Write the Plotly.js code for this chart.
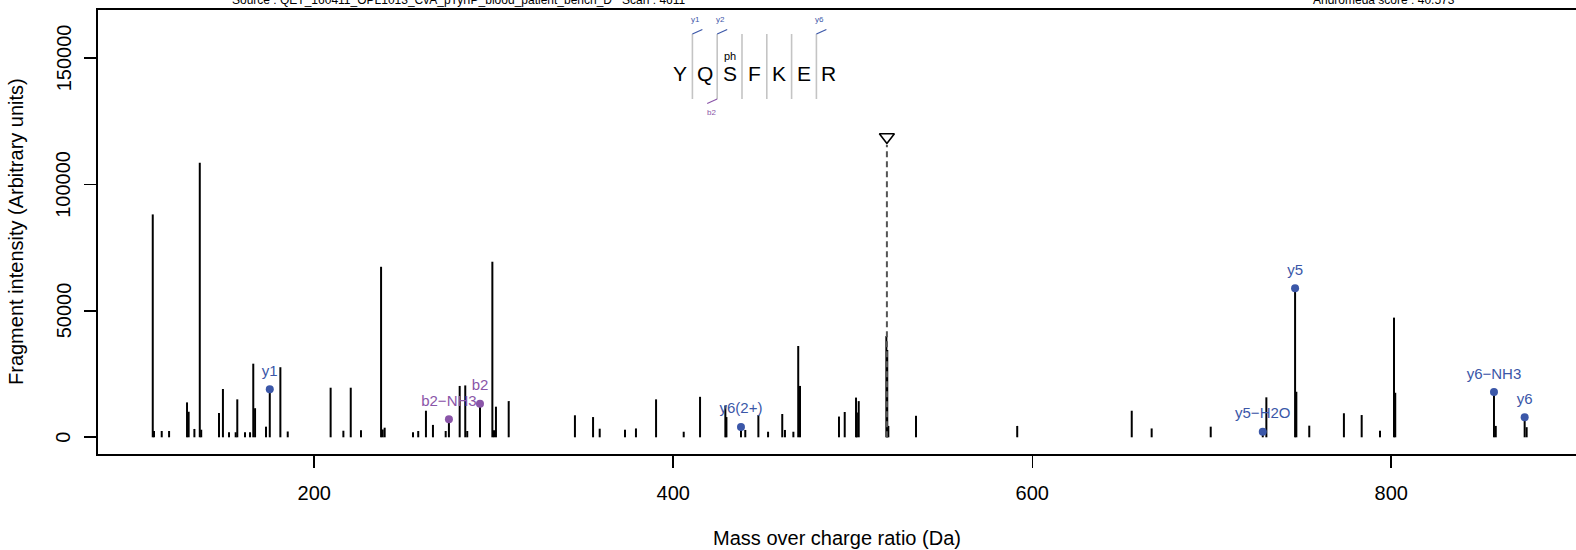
<!DOCTYPE html>
<html>
<head>
<meta charset="utf-8">
<script src="https://cdn.plot.ly/plotly-3.0.1.min.js"></script>
<style>
html,body{margin:0;padding:0;overflow:hidden;background:#fff;}
#chart{width:1576px;height:550px;}
</style>
</head>
<body>
<div id="chart"></div>
<script>
// ---- data ----
const peakMz = [110.0,110.7,115.0,119.1,129.1,130.0,133.2,136.2,137.0,146.9,149.1,152.5,156.2,157.1,161.4,164.2,166.0,167.0,173.1,175.2,181.1,185.2,
  209.1,216.2,220.3,226.0,237.2,238.1,239.2,255.0,257.9,262.2,266.1,273.2,275.0,281.0,284.1,285.2,292.3,299.2,300.1,301.2,308.3,
  345.2,355.3,359.0,373.1,379.2,390.4,405.8,414.9,429.0,429.6,437.7,440.1,447.4,452.8,460.7,462.2,466.9,469.6,470.6,
  492.3,495.5,501.8,502.3,503.3,518.7,519.2,519.8,535.2,591.6,655.4,666.5,699.4,728.4,730.4,746.4,747.1,754.3,
  773.6,783.5,793.7,801.5,802.2,857.2,858.2,874.3,875.4];
const peakIntensity = [88100,2500,2500,2500,13800,10100,3300,108500,3000,9600,19100,2000,2000,15000,2000,2000,29100,11500,4200,19000,27700,2300,
  19600,2600,19600,2800,67400,3100,3800,2000,2500,10500,4900,2500,7100,20300,20500,2500,13300,69400,2800,12100,14300,
  8700,8000,3400,3000,3500,15000,2200,16000,12600,8000,4100,2900,8800,2200,9200,2900,2200,36100,20300,
  8200,10000,15700,9800,14300,40000,34500,4500,8500,4500,10500,3500,4200,2200,15800,58900,18000,4600,
  9500,8800,2600,47300,17600,17900,4500,7900,4000];

const ionLabels = ['y1','b2\u2212NH3','b2','y6(2+)','y5\u2212H2O','y5','y6\u2212NH3','y6'];
const ionMz = [175.2,275.0,292.3,437.7,728.4,746.4,857.2,874.3];
const ionIntensity = [19000,7100,13300,4100,2200,58900,17900,7900];
const ionSeries = ['y','b','b','y','y','y','y','y'];

const precursorMz = [519.0];
const precursorIntensity = [115500];
const precursorMarkerIntensity = [118700];

const sequence = ['Y','Q','S','F','K','E','R'];
const yFragmentSites = [1,2,6];
const yFragmentLabels = ['y1','y2','y6'];
const bFragmentSites = [2];
const bFragmentLabels = ['b2'];
const modSites = [3];
const modLabels = ['ph'];

const xTickVals = [200,400,600,800];
const xTickLabels = ['200','400','600','800'];
const yTickVals = [0,50000,100000,150000];
const yTickLabels = ['0','50000','100000','150000'];

const xTitle = 'Mass over charge ratio (Da)';
const yTitle = 'Fragment intensity (Arbitrary units)';
const sourceText = 'Source : QET_160411_OPL1013_CvA_pTyrIP_blood_patient_bench_D\u00a0\u00a0\u00a0Scan : 4611';
const scoreText = 'Andromeda score : 40.573';

// ---- styling ----
const FONT = 'Liberation Sans, Arial, Helvetica, sans-serif';
const BLUE = '#3b57a8';
const PURPLE = '#8a55a8';
const colorFor = s => s === 'b' ? PURPLE : BLUE;

// plot area in pixels
const L = 98, R = 0, T = 10, B = 96, W = 1576, H = 550;
const PW = W - L - R, PH = H - T - B;
const px = x => (x - L) / PW;
const py = y => (H - B - y) / PH;

// peaks as vertical sticks
const stickX = [], stickY = [];
peakMz.forEach((m, i) => { stickX.push(m, m, null); stickY.push(0, peakIntensity[i], null); });

const traces = [
  {type:'scatter', mode:'lines', x:stickX, y:stickY, line:{color:'#000', width:2}, hoverinfo:'skip', showlegend:false, cliponaxis:false},
  {type:'scatter', mode:'lines', x:[precursorMz[0], precursorMz[0]], y:[0, precursorIntensity[0]],
   line:{color:'#555', width:2, dash:'6px,4px'}, hoverinfo:'skip', showlegend:false},
  {type:'scatter', mode:'markers', x:precursorMz, y:precursorMarkerIntensity,
   marker:{symbol:'triangle-down-open', size:13, color:'#000', line:{width:1.6, color:'#000'}}, showlegend:false, hoverinfo:'skip'},
  // ion labels (invisible larger markers give the label offset)
  {type:'scatter', mode:'markers+text', x:ionMz, y:ionIntensity, text:ionLabels, textposition:'top center',
   textfont:{family:FONT, size:15, color:ionSeries.map(colorFor)},
   marker:{size:14, color:'rgba(0,0,0,0)'}, showlegend:false, hoverinfo:'skip', cliponaxis:false},
  {type:'scatter', mode:'markers', x:ionMz, y:ionIntensity,
   marker:{size:8, color:ionSeries.map(colorFor)}, showlegend:false, hoverinfo:'skip', cliponaxis:false}
];

// sequence decoration
const shapes = [], annotations = [];
const letter0 = 680, step = 24.8, sepTop = 34, sepBot = 99, letterY = 74;
sequence.forEach((aa, i) => {
  annotations.push({xref:'paper', yref:'paper', x:px(letter0 + i*step), y:py(letterY), text:aa, showarrow:false,
    xanchor:'center', yanchor:'middle', font:{family:FONT, size:21, color:'#000'}});
  if (i < sequence.length - 1) {
    const sx = letter0 + i*step + step/2;
    shapes.push({type:'line', xref:'paper', yref:'paper', x0:px(sx), x1:px(sx), y0:py(sepTop), y1:py(sepBot),
      line:{color:'#c4c4c4', width:1.6}});
  }
});
yFragmentSites.forEach((s, k) => {
  const sx = letter0 + (s-1)*step + step/2;
  shapes.push({type:'line', xref:'paper', yref:'paper', x0:px(sx), x1:px(sx+10), y0:py(sepTop), y1:py(sepTop-4.5),
    line:{color:BLUE, width:1.2}});
  annotations.push({xref:'paper', yref:'paper', x:px(sx+3.5), y:py(20), text:yFragmentLabels[k], showarrow:false,
    xanchor:'center', yanchor:'middle', font:{family:FONT, size:8, color:BLUE}});
});
bFragmentSites.forEach((s, k) => {
  const sx = letter0 + (s-1)*step + step/2;
  shapes.push({type:'line', xref:'paper', yref:'paper', x0:px(sx), x1:px(sx-10), y0:py(sepBot), y1:py(sepBot+4.5),
    line:{color:PURPLE, width:1.2}});
  annotations.push({xref:'paper', yref:'paper', x:px(sx-5.5), y:py(113), text:bFragmentLabels[k], showarrow:false,
    xanchor:'center', yanchor:'middle', font:{family:FONT, size:8, color:PURPLE}});
});
modSites.forEach((s, k) => {
  annotations.push({xref:'paper', yref:'paper', x:px(letter0 + (s-1)*step), y:py(56), text:modLabels[k], showarrow:false,
    xanchor:'center', yanchor:'middle', font:{family:FONT, size:11, color:'#000'}});
});

// y tick labels, rotated like R's default axis labels
yTickVals.forEach((v, k) => {
  annotations.push({xref:'paper', yref:'y', x:px(63.5), y:v, text:yTickLabels[k], textangle:-90, showarrow:false,
    xanchor:'center', yanchor:'middle', font:{family:FONT, size:20, color:'#000'}});
});
// y axis title
annotations.push({xref:'paper', yref:'paper', x:px(16), y:py(232), text:yTitle, textangle:-90, showarrow:false,
  xanchor:'center', yanchor:'middle', font:{family:FONT, size:20, color:'#000'}});

// header texts (partly cut off at top like the reference)
annotations.push({xref:'paper', yref:'paper', x:px(459), y:py(0), text:sourceText, showarrow:false,
  xanchor:'center', yanchor:'middle', font:{family:FONT, size:12, color:'#000'}});
annotations.push({xref:'paper', yref:'paper', x:px(1384), y:py(0), text:scoreText, showarrow:false,
  xanchor:'center', yanchor:'middle', font:{family:FONT, size:12, color:'#000'}});

const layout = {
  width:W, height:H,
  margin:{l:L, r:R, t:T, b:B, pad:0},
  paper_bgcolor:'#fff', plot_bgcolor:'#fff',
  font:{family:FONT, color:'#000'},
  showlegend:false,
  xaxis:{range:[79.5, 902.9], showgrid:false, zeroline:false, showline:true, mirror:true, linecolor:'#000', linewidth:1.6,
    ticks:'outside', ticklen:12, tickwidth:1.6, tickcolor:'#000', tickvals:xTickVals, ticktext:xTickLabels,
    tickfont:{family:FONT, size:20}, automargin:false, ticklabelstandoff:8,
    title:{text:xTitle, font:{family:FONT, size:20}, standoff:28}},
  yaxis:{range:[-6601, 168893], showgrid:false, zeroline:false, showline:true, linecolor:'#000', linewidth:1.6,
    ticks:'outside', ticklen:12, tickwidth:1.6, tickcolor:'#000', tickvals:yTickVals, showticklabels:false,
    automargin:false},
  shapes:shapes,
  annotations:annotations
};

Plotly.newPlot('chart', traces, layout, {displayModeBar:false, staticPlot:true});
</script>
</body>
</html>
